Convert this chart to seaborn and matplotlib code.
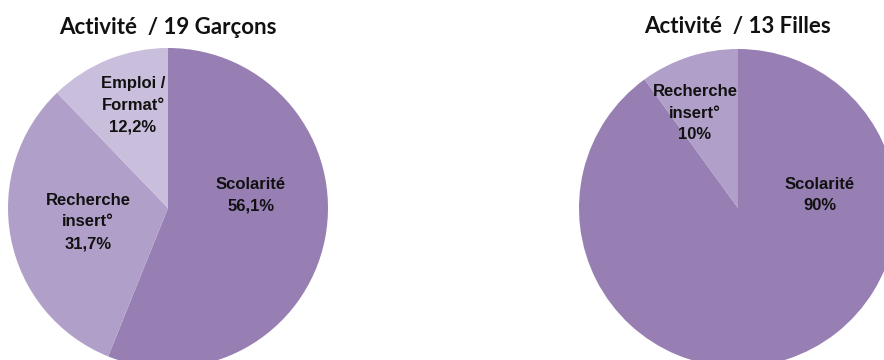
import matplotlib.pyplot as plt
import seaborn as sns

# data
boys_labels = ["Scolarité", "Recherche\ninsert°", "Emploi /\nFormat°"]
boys_values = [56.1, 31.7, 12.2]
boys_pct = ["56,1%", "31,7%", "12,2%"]

girls_labels = ["Scolarité", "Recherche\ninsert°"]
girls_values = [90, 10]
girls_pct = ["90%", "10%"]

titles = ["Activité  / 19 Garçons", "Activité  / 13 Filles"]

sns.set_style("white")
colors = ["#977fb4", "#b09fc8", "#c9bedc"]

W, H = 884, 360
fig = plt.figure(figsize=(W / 100, H / 100), dpi=100)
ax = fig.add_axes([0, 0, 1, 1])

label_font = dict(family=["Liberation Sans Narrow", "Liberation Sans", "DejaVu Sans"],
                  fontsize=12, fontweight="bold", ha="center", va="center",
                  linespacing=1.55, color="#111111")
title_font = dict(family=["Lato", "DejaVu Sans"], fontsize=16,
                  fontweight="bold", ha="center", va="center", color="#111111")


def draw_pie(values, labels, pcts, cx, cy, radius, label_pos, title):
    ax.pie(values, colors=colors[:len(values)], startangle=90, counterclock=False,
           center=(cx, H - cy), radius=radius, frame=True,
           wedgeprops=dict(linewidth=0))
    for (lx, ly), lab, pct in zip(label_pos, labels, pcts):
        ax.text(lx, H - ly, f"{lab}\n{pct}", **label_font)
    ax.text(cx, H - 27, title, **title_font)


draw_pie(boys_values, boys_labels, boys_pct, 168, 208, 160,
         [(251, 195), (88, 222), (133, 105)], titles[0])
draw_pie(girls_values, girls_labels, girls_pct, 738, 208, 159,
         [(820, 195), (695, 113)], titles[1])

ax.set_xlim(0, W)
ax.set_ylim(0, H)
ax.set_aspect("equal")
ax.axis("off")

fig.savefig("out.png", dpi=100, facecolor="white")
plt.close(fig)
